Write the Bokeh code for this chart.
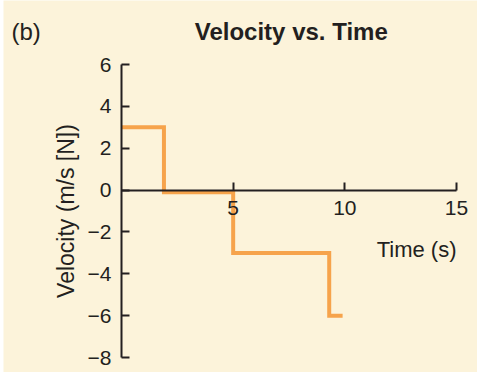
from bokeh.plotting import figure
from bokeh.models import FixedTicker, Label, Range1d
from bokeh.embed import file_html
from bokeh.resources import INLINE

# data
time_s = [0, 1.9, 5.0, 9.3, 9.9]
velocity = [3, -0.1, -3, -6, -6]
x_ticks = [5, 10, 15]
y_ticks = [-8, -6, -4, -2, 0, 2, 4, 6]
y_tick_labels = ["\u22128", "\u22126", "\u22124", "\u22122", "0", "2", "4", "6"]
title_text = "Velocity vs. Time"
panel_text = "(b)"
x_label = "Time (s)"
y_label = "Velocity (m/s [N])"

BG = "#FCF3DA"
INK = "#231F20"
ORANGE = "#F6A34B"
FONT = "Liberation Sans"

# the plotting frame covers the canvas; axes sit at x=0 and y=0
p = figure(width=477, height=372,
           min_border_left=3, min_border_right=0,
           min_border_top=0, min_border_bottom=0,
           x_range=Range1d(-5.284, 15.94), y_range=Range1d(-8.715, 9.058),
           output_backend="svg", toolbar_location=None)
p.background_fill_color = BG
p.border_fill_color = "white"
p.outline_line_color = None
p.grid.visible = False

p.step(time_s, velocity, mode="after", line_color=ORANGE, line_width=4,
       line_join="miter")

xa = p.xaxis[0]
xa.fixed_location = 0
xa.bounds = (0, 15)
xa.ticker = FixedTicker(ticks=x_ticks)
xa.major_tick_in = 8
xa.major_tick_out = 0
xa.major_label_standoff = 11

ya = p.yaxis[0]
ya.fixed_location = 0
ya.bounds = (-8, 6)
ya.ticker = FixedTicker(ticks=y_ticks)
ya.major_label_overrides = {t: s for t, s in zip(y_ticks, y_tick_labels)}
ya.major_tick_in = 8
ya.major_tick_out = 0
ya.major_label_standoff = 10
ya.axis_label = y_label
ya.axis_label_standoff = 6
ya.axis_label_text_font = FONT
ya.axis_label_text_font_size = "23px"
ya.axis_label_text_font_style = "normal"
ya.axis_label_text_color = INK

for a in (xa, ya):
    a.minor_tick_line_color = None
    a.axis_line_color = INK
    a.axis_line_width = 2
    a.major_tick_line_color = INK
    a.major_tick_line_width = 2
    a.major_label_text_font = FONT
    a.major_label_text_font_size = "21px"
    a.major_label_text_color = INK

p.add_layout(Label(x=15, y=-2.84, text=x_label, text_align="right",
                   text_baseline="alphabetic", text_font=FONT,
                   text_font_size="22px", text_color=INK))
p.add_layout(Label(x=7.6, y=7.6, text=title_text, text_align="center",
                   text_baseline="alphabetic", text_font=FONT,
                   text_font_size="24px", text_font_style="bold", text_color=INK))
p.add_layout(Label(x=-4.93, y=7.6, text=panel_text,
                   text_align="left", text_baseline="alphabetic", text_font=FONT,
                   text_font_size="24px", text_color=INK))

open("out.html", "w").write(file_html(p, INLINE))
